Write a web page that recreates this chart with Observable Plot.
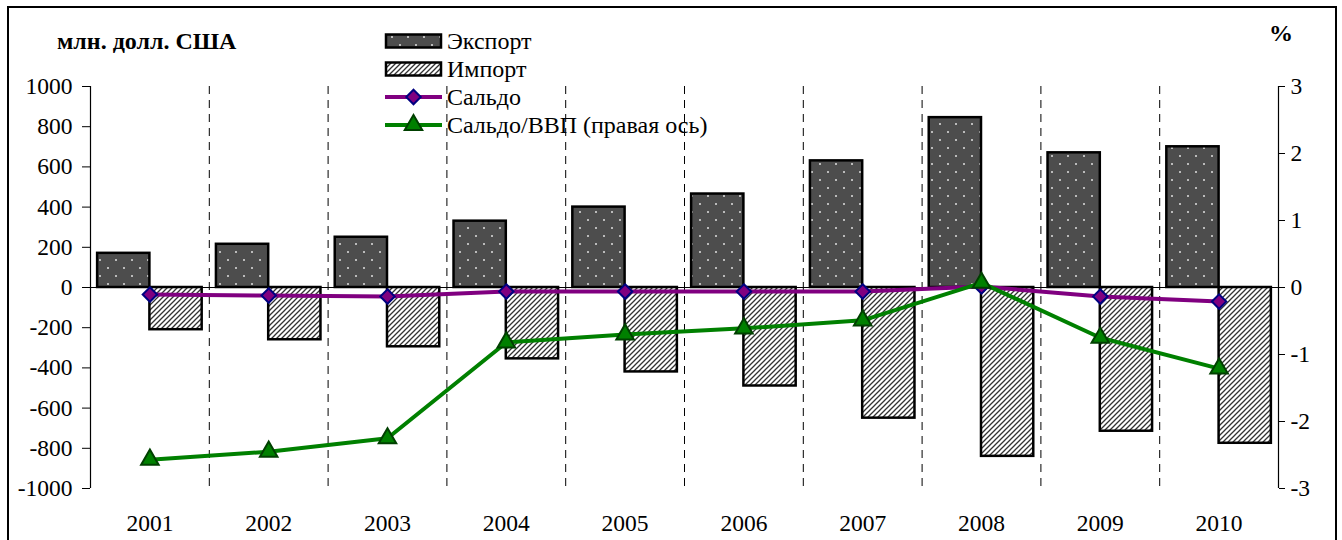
<!DOCTYPE html>
<html>
<head>
<meta charset="utf-8">
<script src="https://cdn.jsdelivr.net/npm/d3@7"></script>
<script src="https://cdn.jsdelivr.net/npm/@observablehq/plot@0.6"></script>
<style>
  html, body { margin: 0; padding: 0; background: #fff; }
  #wrap { position: relative; width: 1342px; height: 540px; overflow: hidden; background: #fff; font-family: "Liberation Serif", "Times New Roman", "DejaVu Serif", serif; }
  #wrap > svg { position: absolute; left: 0; top: 0; }
  #border { position: absolute; left: 7px; top: 6px; width: 1326px; height: 600px; border: 2px solid #000; pointer-events: none; }
  .lbl { position: absolute; font-family: "Liberation Serif", "Times New Roman", "DejaVu Serif", serif; font-size: 24px; color: #000; white-space: nowrap; line-height: 1; }
</style>
</head>
<body>
<div id="wrap"></div>
<script>
const years = ["2001","2002","2003","2004","2005","2006","2007","2008","2009","2010"];
const exportVals = [170, 215, 250, 330, 400, 465, 630, 845, 670, 700];
const importVals = [-210, -260, -295, -355, -420, -490, -650, -840, -715, -775];
const balanceVals = [-35, -40, -45, -20, -20, -20, -20, 5, -45, -70];
const balanceGdpVals = [-2.57, -2.45, -2.25, -0.82, -0.70, -0.61, -0.49, 0.07, -0.75, -1.21];
const leftTicks = [-1000, -800, -600, -400, -200, 0, 200, 400, 600, 800, 1000];
const rightTicks = [-3, -2, -1, 0, 1, 2, 3];
const seriesNames = ["Экспорт", "Импорт", "Сальдо", "Сальдо/ВВП (правая ось)"];
const leftUnit = "млн. долл. США";
const rightUnit = "%";

const FONT = "'Liberation Serif', 'Times New Roman', 'DejaVu Serif', serif";
const k = 1000 / 3; // right axis -> left axis
const rows = years.map((year, i) => ({
  year, i,
  exp: exportVals[i], imp: importVals[i],
  bal: balanceVals[i], ratio: balanceGdpVals[i]
}));
const bounds = rows.slice(1).map(r => r.i);

const chart = Plot.plot({
  width: 1342, height: 540,
  marginLeft: 90, marginRight: 64, marginTop: 86, marginBottom: 52,
  x: {type: "linear", domain: [0, years.length], axis: null},
  y: {domain: [-1000, 1000], axis: null},
  style: {fontFamily: FONT, fontSize: "23.5px", color: "#000", background: "transparent", overflow: "visible"},
  marks: [
    Plot.ruleX(bounds, {stroke: "#000", strokeWidth: 1, strokeDasharray: "8,6"}),
    Plot.rectY(rows, {x1: d => d.i + 0.06, x2: d => d.i + 0.5, y1: 0, y2: "exp", fill: "url(#dots)", stroke: "#000", strokeWidth: 2.5}),
    Plot.rectY(rows, {x1: d => d.i + 0.5, x2: d => d.i + 0.94, y1: 0, y2: "imp", fill: "url(#hatch)", stroke: "#000", strokeWidth: 2.5}),
    Plot.ruleY([0], {stroke: "#000", strokeWidth: 1.2}),
    Plot.ruleX([0, years.length], {stroke: "#000", strokeWidth: 1.2}),
    Plot.axisY({anchor: "left", ticks: leftTicks, tickSize: 8, tickPadding: 10, tickFormat: d => String(d)}),
    Plot.axisY({anchor: "right", ticks: rightTicks.map(v => v * k), tickSize: 6, tickPadding: 6, tickFormat: v => String(Math.round(v / k))}),
    Plot.axisX({ticks: rows.map(r => r.i + 0.5), tickFormat: v => years[Math.floor(v)], tickSize: 0, tickPadding: 26}),
    Plot.line(rows, {x: d => d.i + 0.5, y: "bal", stroke: "#800080", strokeWidth: 4}),
    Plot.dot(rows, {x: d => d.i + 0.5, y: "bal", symbol: "diamond2", r: 6.5, fill: "#800080", stroke: "#000080", strokeWidth: 2}),
    Plot.line(rows, {x: d => d.i + 0.5, y: d => d.ratio * k, stroke: "#008000", strokeWidth: 4}),
    Plot.dot(rows, {x: d => d.i + 0.5, y: d => d.ratio * k, symbol: "triangle", r: 6.5, fill: "#008000", stroke: "#004000", strokeWidth: 2})
  ]
});

// patterns
const defs = d3.select(chart).insert("defs", ":first-child");
const pd = defs.append("pattern").attr("id", "dots").attr("patternUnits", "userSpaceOnUse").attr("width", 16).attr("height", 16);
pd.append("rect").attr("width", 16).attr("height", 16).attr("fill", "#4d4d4d");
pd.append("circle").attr("cx", 4).attr("cy", 4).attr("r", 1).attr("fill", "#e0e0e0");
pd.append("circle").attr("cx", 12).attr("cy", 12).attr("r", 1).attr("fill", "#e0e0e0");
const ph = defs.append("pattern").attr("id", "hatch").attr("patternUnits", "userSpaceOnUse").attr("width", 5).attr("height", 5);
ph.append("rect").attr("width", 5).attr("height", 5).attr("fill", "#fff");
ph.append("path").attr("d", "M-1,1 L1,-1 M0,5 L5,0 M4,6 L6,4").attr("stroke", "#333").attr("stroke-width", 1.3);

const wrap = document.getElementById("wrap");
wrap.appendChild(chart);

// legend overlay
const lg = d3.select(wrap).append("svg")
  .attr("width", 360).attr("height", 120)
  .style("position", "absolute").style("left", "380px").style("top", "26px").style("overflow", "visible");
const rowY = [15, 43, 71, 99];
seriesNames.forEach((name, j) => {
  const g = lg.append("g").attr("transform", `translate(0,${rowY[j]})`);
  if (j < 2) {
    g.append("rect").attr("x", 6).attr("y", -6.5).attr("width", 55).attr("height", 13)
      .attr("fill", j === 0 ? "url(#dots)" : "url(#hatch)").attr("stroke", "#000").attr("stroke-width", 2.5);
  } else {
    const col = j === 2 ? "#800080" : "#008000";
    g.append("line").attr("x1", 5).attr("x2", 62).attr("y1", 0).attr("y2", 0).attr("stroke", col).attr("stroke-width", 4);
    g.append("path").attr("transform", "translate(33.5,0)")
      .attr("d", d3.symbol(j === 2 ? d3.symbolDiamond2 : d3.symbolTriangle, Math.PI * 6.5 * 6.5)())
      .attr("fill", col).attr("stroke", j === 2 ? "#000080" : "#004000").attr("stroke-width", 2);
  }
  g.append("text").attr("x", 67).attr("y", 7.5).attr("font-family", FONT).attr("font-size", 24).text(name);
});

const t1 = document.createElement("div");
t1.className = "lbl"; t1.style.left = "57px"; t1.style.top = "29px"; t1.style.fontWeight = "bold"; t1.textContent = leftUnit;
wrap.appendChild(t1);
const t2 = document.createElement("div");
t2.className = "lbl"; t2.style.left = "1269px"; t2.style.top = "21px"; t2.style.fontWeight = "bold"; t2.textContent = rightUnit;
wrap.appendChild(t2);

const border = document.createElement("div");
border.id = "border";
wrap.appendChild(border);
</script>
</body>
</html>
